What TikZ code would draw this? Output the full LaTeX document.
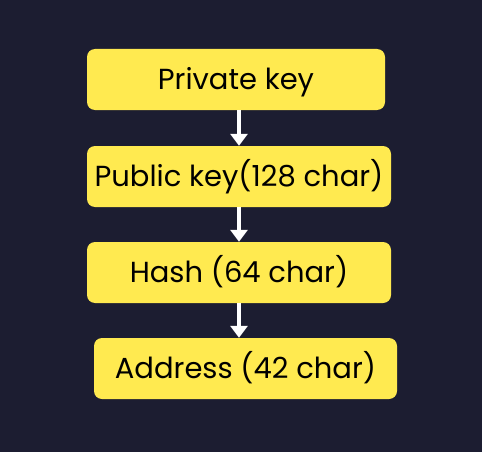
\documentclass[tikz,border=0pt]{standalone}
\usepackage{fontspec}
\setmainfont{Poppins}
\usetikzlibrary{positioning, arrows.meta}
\definecolor{navy}{RGB}{28,29,49}
\definecolor{keyyellow}{RGB}{255,234,80}
\tikzstyle{block} = [rectangle, fill=keyyellow, text=black, font=\fontsize{29}{34}\selectfont,
minimum height=61pt, rounded corners=8pt, inner sep=0pt, text height=20pt, text depth=-1pt]
\tikzstyle{line} = [draw, white, line width=4.5pt, -{Triangle[width=17pt,length=12pt]}]

\begin{document}
\begin{tikzpicture}[x=1pt, y=-1pt]
    \fill [navy] (0,0) rectangle (482,452);
    \useasboundingbox (0,0) rectangle (482,452);
    \node [block, minimum width=298pt] (priv) at (236,79.5) {Private key};
    \node [block, minimum width=304pt, below of=priv, node distance=97pt, xshift=3pt] (pub) {Public key(128 char)};
    \node [block, minimum width=304pt, below of=pub, node distance=96pt] (hash) {Hash (64 char)};
    \node [block, minimum width=303pt, below of=hash, node distance=96pt, xshift=6.5pt] (addr) {Address (42 char)};
    \path [line] (pub.north |- priv.south) -- (pub.north);
    \path [line] (pub.south) -- (hash.north);
    \path [line] (hash.south) -- (hash.south |- addr.north);
\end{tikzpicture}
\end{document}
